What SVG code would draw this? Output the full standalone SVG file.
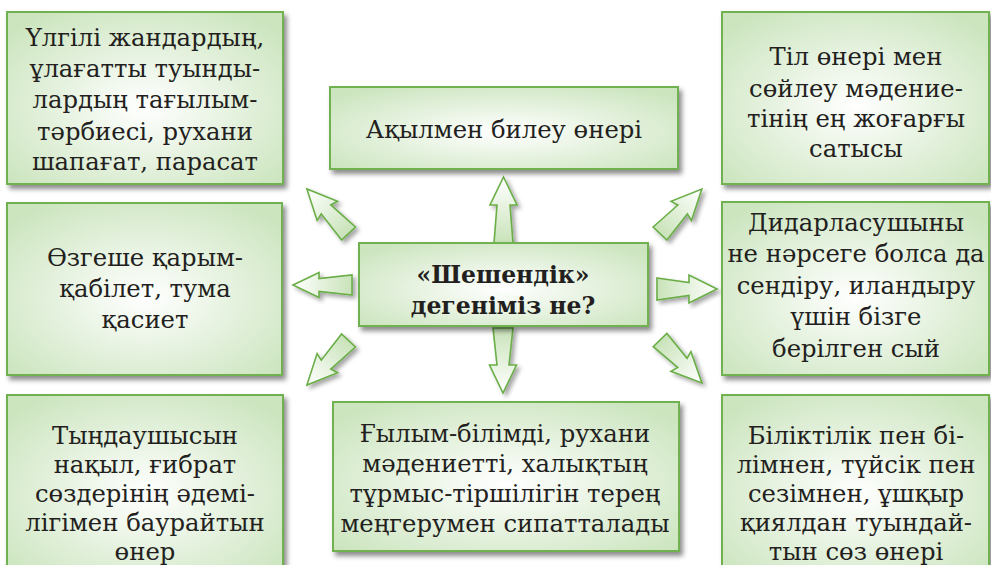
<svg xmlns="http://www.w3.org/2000/svg" width="991" height="565" viewBox="0 0 991 565">
<defs>
<radialGradient id="boxg" cx="0.5" cy="0.55" r="0.65">
<stop offset="0" stop-color="#ffffff"/>
<stop offset="1" stop-color="#cce5bf"/>
</radialGradient>
<linearGradient id="arrg" x1="0" y1="0" x2="1" y2="0">
<stop offset="0" stop-color="#c9e3b9"/>
<stop offset="1" stop-color="#ffffff"/>
</linearGradient>
<filter id="sh" x="-20%" y="-20%" width="140%" height="140%">
<feDropShadow dx="3" dy="4" stdDeviation="2.5" flood-color="#000" flood-opacity="0.45"/>
</filter>
<filter id="ash" x="-40%" y="-40%" width="180%" height="180%">
<feDropShadow dx="3" dy="3" stdDeviation="2" flood-color="#000" flood-opacity="0.35"/>
</filter>
</defs>
<style>
.box{fill:url(#boxg);stroke:#71b150;stroke-width:2}
.arr{fill:url(#arrg);stroke:#6aae47;stroke-width:1.6;stroke-linejoin:miter}
.t{font-family:"DejaVu Serif","Liberation Serif",serif;font-size:24.3px;fill:#231f20;text-anchor:middle}
.b{font-family:"DejaVu Serif","Liberation Serif",serif;font-weight:bold;font-size:23.5px;fill:#231f20;text-anchor:middle}
</style>
<rect width="991" height="565" fill="#ffffff"/>

<g id="connectors">
<g filter="url(#ash)"><polygon class="arr" transform="translate(503.5,243) rotate(-90)" points="0,-9.5 38,-6.5 38,-13.5 66,0 38,13.5 38,6.5 0,9.5"/></g>
<g filter="url(#ash)"><polygon class="arr" transform="translate(503,328) rotate(90)" points="0,-10 37,-6 37,-13.5 65,0 37,13.5 37,6 0,10"/></g>
<g filter="url(#ash)"><polygon class="arr" transform="translate(352,285) rotate(180)" points="0,-10 33,-6.5 33,-12.5 59,0 33,12.5 33,6.5 0,10"/></g>
<g filter="url(#ash)"><polygon class="arr" transform="translate(657,289) rotate(0)" points="0,-11 32,-6.5 32,-14 60,0 32,14 32,6.5 0,11"/></g>
<g filter="url(#ash)"><polygon class="arr" transform="translate(348.5,233.5) rotate(-133)" points="0,-9.5 33,-6.5 31,-14 61,0 31,14 33,6.5 0,9.5"/></g>
<g filter="url(#ash)"><polygon class="arr" transform="translate(660,233.5) rotate(-46.7)" points="0,-9.5 33,-6.5 31,-14 61,0 31,14 33,6.5 0,9.5"/></g>
<g filter="url(#ash)"><polygon class="arr" transform="translate(348.5,340.5) rotate(133)" points="0,-9.5 33,-6.5 31,-14 61,0 31,14 33,6.5 0,9.5"/></g>
<g filter="url(#ash)"><polygon class="arr" transform="translate(660,340) rotate(45.7)" points="0,-9.5 32,-6.5 30,-14 60,0 30,14 32,6.5 0,9.5"/></g>
</g>

<g id="n-top-left">
<rect class="box" x="7" y="12" width="276" height="172" filter="url(#sh)"/>
<text class="t" x="145" y="46">Үлгілі жандардың,</text>
<text class="t" x="145" y="77">ұлағатты туынды-</text>
<text class="t" x="145" y="108">лардың тағылым-</text>
<text class="t" x="145" y="140">тәрбиесі, рухани</text>
<text class="t" x="145" y="170">шапағат, парасат</text>
</g>

<g id="n-top-center">
<rect class="box" x="330" y="87" width="348" height="82" filter="url(#sh)"/>
<text class="t" x="504" y="138">Ақылмен билеу өнері</text>
</g>

<g id="n-top-right">
<rect class="box" x="722" y="12" width="267" height="172" filter="url(#sh)"/>
<text class="t" x="856" y="65">Тіл өнері мен</text>
<text class="t" x="856" y="97">сөйлеу мәдение-</text>
<text class="t" x="856" y="127">тінің ең жоғарғы</text>
<text class="t" x="856" y="157">сатысы</text>
</g>

<g id="n-mid-left">
<rect class="box" x="7" y="203" width="275" height="172" filter="url(#sh)"/>
<text class="t" x="145" y="266">Өзгеше қарым-</text>
<text class="t" x="145" y="297">қабілет, тума</text>
<text class="t" x="145" y="328">қасиет</text>
</g>

<g id="n-center">
<rect class="box" x="359" y="243" width="289" height="83" filter="url(#sh)"/>
<text class="b" x="503" y="283">«Шешендік»</text>
<text class="b" x="503" y="314">дегеніміз не?</text>
</g>

<g id="n-mid-right">
<rect class="box" x="722" y="202" width="267" height="173" filter="url(#sh)"/>
<text class="t" x="856" y="231">Дидарласушыны</text>
<text class="t" x="856" y="262">не нәрсеге болса да</text>
<text class="t" x="856" y="294">сендіру, иландыру</text>
<text class="t" x="856" y="325">үшін бізге</text>
<text class="t" x="856" y="357">берілген сый</text>
</g>

<g id="n-bottom-left">
<rect class="box" x="7" y="395" width="276" height="180" filter="url(#sh)"/>
<text class="t" x="145" y="444">Тыңдаушысын</text>
<text class="t" x="145" y="473">нақыл, ғибрат</text>
<text class="t" x="145" y="502">сөздерінің әдемі-</text>
<text class="t" x="145" y="531">лігімен баурайтын</text>
<text class="t" x="145" y="560">өнер</text>
</g>

<g id="n-bottom-center">
<rect class="box" x="333" y="402" width="346" height="149" filter="url(#sh)"/>
<text class="t" x="505" y="442">Ғылым-білімді, рухани</text>
<text class="t" x="505" y="472">мәдениетті, халықтың</text>
<text class="t" x="505" y="502">тұрмыс-тіршілігін терең</text>
<text class="t" x="505" y="532">меңгерумен сипатталады</text>
</g>

<g id="n-bottom-right">
<rect class="box" x="722" y="395" width="267" height="180" filter="url(#sh)"/>
<text class="t" x="856" y="444">Біліктілік пен бі-</text>
<text class="t" x="856" y="473">лімнен, түйсік пен</text>
<text class="t" x="856" y="502">сезімнен, ұшқыр</text>
<text class="t" x="856" y="531">қиялдан туындай-</text>
<text class="t" x="856" y="560">тын сөз өнері</text>
</g>
</svg>
